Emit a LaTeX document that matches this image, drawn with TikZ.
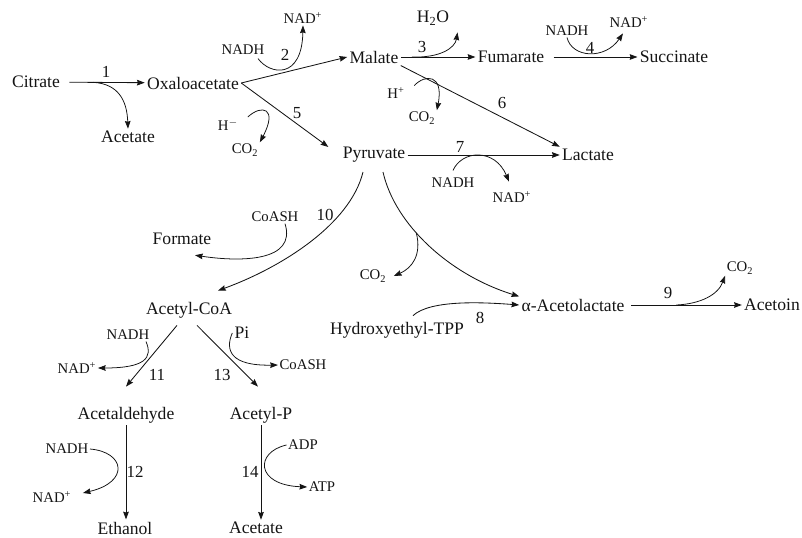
\documentclass[tikz,border=0pt]{standalone}
\usepackage{fontspec}
\setmainfont{Liberation Serif}
\usepackage{tikz}
\usetikzlibrary{arrows,arrows.meta,positioning,calc}
\usepackage{xcolor}
\definecolor{inkgray}{RGB}{20,20,20}
\tikzstyle{metab} = [font=\fontsize{12.5}{14}\selectfont, inner sep=1.5pt, text=inkgray]
\tikzstyle{cofac} = [font=\fontsize{10.5}{12}\selectfont, inner sep=1pt, text=inkgray]
\tikzstyle{enz} = [font=\fontsize{12}{14}\selectfont, inner sep=0pt, text=inkgray]
\tikzstyle{flux} = [->,>={Stealth[length=5.5pt,width=4pt,inset=0.6pt]},line width=0.6pt,color=inkgray]
\tikzstyle{side} = [->,>={Stealth[length=5.5pt,width=4pt,inset=0.6pt]},line width=0.55pt,color=inkgray]

\begin{document}
\begin{tikzpicture}[x=0.025cm, y=-0.025cm]
    \useasboundingbox (0,0) rectangle (802,538);

    % Metabolites
    \node[metab] (citrate) at (36,82) {Citrate};
    \node[metab] (acetateA) at (128,137) {Acetate};
    \node[metab] (oxalo) at (193,83) {Oxaloacetate};
    \node[metab] (malate) at (374,57) {Malate};
    \node[metab] (fumarate) at (511,57) {Fumarate};
    \node[metab] (succinate) at (674,57) {Succinate};
    \node[metab] (pyruvate) at (374,155) {Pyruvate};
    \node[metab] (lactate) at (588,155) {Lactate};
    \node[metab] (formate) at (182,239) {Formate};
    \node[metab] (acetylcoa) at (189,310) {Acetyl-CoA};
    \node[metab] (acetolac) at (573,305) {α-Acetolactate};
    \node[metab] (acetoin) at (772,305) {Acetoin};
    \node[metab] (hte) at (397,330) {Hydroxyethyl-TPP};
    \node[metab] (acetald) at (126,415) {Acetaldehyde};
    \node[metab] (acetylp) at (261,415) {Acetyl-P};
    \node[metab] (ethanol) at (125,528) {Ethanol};
    \node[metab] (acetateB) at (256,528) {Acetate};

    % Cofactors
    \node[cofac] (nadh2) at (243,50) {NADH};
    \node[cofac] (nad2) at (303,18) {NAD\textsuperscript{+}};
    \node[cofac] (hm5) at (228,125) {H\textsuperscript{$-$}};
    \node[cofac] (co2a) at (245,150) {CO\textsubscript{2}};
    \node[metab] (h2o) at (433,18) {H\textsubscript{2}O};
    \node[cofac] (nadh4) at (567,31) {NADH};
    \node[cofac] (nad4) at (629,22) {NAD\textsuperscript{+}};
    \node[cofac] (hp6) at (396,93) {H\textsuperscript{+}};
    \node[cofac] (co2b) at (422,118) {CO\textsubscript{2}};
    \node[cofac] (nadh7) at (453,183) {NADH};
    \node[cofac] (nad7) at (512,197) {NAD\textsuperscript{+}};
    \node[cofac] (coash10) at (275,217) {CoASH};
    \node[cofac] (co2c) at (373,276) {CO\textsubscript{2}};
    \node[cofac] (co2d) at (740,268) {CO\textsubscript{2}};
    \node[cofac] (nadh11) at (128,335) {NADH};
    \node[cofac] (nad11) at (77,368) {NAD\textsuperscript{+}};
    \node[metab] (pi13) at (242,333) {Pi};
    \node[cofac] (coash13) at (303,365) {CoASH};
    \node[cofac] (nadh12) at (67,449) {NADH};
    \node[cofac] (nad12) at (52,497) {NAD\textsuperscript{+}};
    \node[cofac] (adp14) at (303,445) {ADP};
    \node[cofac] (atp14) at (322,487) {ATP};

    % Reaction numbers
    \node[enz] (r1) at (106,72) {1};
    \node[enz] (r2) at (285,55) {2};
    \node[enz] (r3) at (422,47) {3};
    \node[enz] (r4) at (590,48) {4};
    \node[enz] (r5) at (297,113) {5};
    \node[enz] (r6) at (502,103) {6};
    \node[enz] (r7) at (460,147) {7};
    \node[enz] (r8) at (480,318) {8};
    \node[enz] (r9) at (668,293) {9};
    \node[enz] (r10) at (325,215) {10};
    \node[enz] (r11) at (157,375) {11};
    \node[enz] (r12) at (135,472) {12};
    \node[enz] (r13) at (222,375) {13};
    \node[enz] (r14) at (250,472) {14};

    % Main fluxes
    \draw[flux, shorten <=5pt] (citrate) -- coordinate[pos=0.38] (a1) (oxalo);
    \draw[flux] (oxalo.east) -- (malate.west);
    \draw[flux] (oxalo.east) -- ([shift={(-12,2)}]pyruvate.north west);
    \draw[flux] (malate) -- coordinate[pos=0.15] (a3) (fumarate);
    \draw[flux, shorten <=5pt] (fumarate) -- (succinate);
    \draw[flux] (malate.south east) -- (lactate.north west);
    \draw[flux] (pyruvate) -- (lactate);
    \draw[flux] ([shift={(-11,7)}]pyruvate.south) .. controls (350,225) and (280,268) .. ([shift={(29,-9)}]acetylcoa.north);
    \draw[flux] ([shift={(9,7)}]pyruvate.south) .. controls (395,225) and (450,275) .. coordinate[pos=0.4] (b1) (acetolac.north west);
    \draw[flux] ([shift={(16,-4)}]hte.north) .. controls (430,300) and (480,302) .. (acetolac.west);
    \draw[flux, shorten <=3pt] (acetolac) -- coordinate[pos=0.43] (a9) (acetoin);
    \draw[flux] ([shift={(-12,5)}]acetylcoa.south) -- ([shift={(0,-18)}]acetald.north);
    \draw[flux] ([shift={(8,5)}]acetylcoa.south) -- ([shift={(-3,-18)}]acetylp.north);
    \draw[flux] (acetald.south) -- (acetald.south |- ethanol.north);
    \draw[flux] (acetylp.south) -- (acetylp.south |- acetateB.north);

    % Side reactions
    \draw[side] (a1) .. controls (118,84) and (127,100) .. (acetateA.north);
    \draw[side] ([shift={(15,2)}]nadh2.south) .. controls (270,75) and (302,80) .. (nad2.south);
    \draw[side] ([shift={(8,-8)}]hm5.east) .. controls (262,104) and (278,108) .. (co2a.north east);
    \draw[side] (a3) .. controls (440,58) and (455,48) .. ([shift={(6,5)}]h2o.south east);
    \draw[side] (nadh4.south) .. controls (572,58) and (605,60) .. ([shift={(-6,4)}]nad4.south);
    \draw[side] ([shift={(8,0)}]hp6.north east) .. controls (425,74) and (444,74) .. (co2b.north east);
    \draw[side] ([shift={(0,-6)}]nadh7.north) .. controls (462,150) and (495,148) .. ([shift={(-3,-8)}]nad7.north);
    \draw[side] ([shift={(10,0)}]coash10.south) .. controls (297,262) and (240,262) .. ([shift={(13,8)}]formate.south);
    \draw[side] (b1) .. controls (422,255) and (412,268) .. ([shift={(6,0)}]co2c.east);
    \draw[side] (a9) .. controls (700,304) and (718,295) .. (co2d.south west);
    \draw[side] ([shift={(-5,0)}]nadh11.south east) .. controls (153,358) and (145,368) .. (nad11.east);
    \draw[side] (pi13.west) .. controls (225,350) and (230,366) .. (coash13.west);
    \draw[side] (nadh12.east) .. controls (125,452) and (130,482) .. ([shift={(10,-4)}]nad12.east);
    \draw[side] (adp14.west) .. controls (255,452) and (255,485) .. (atp14.west);
\end{tikzpicture}
\end{document}
